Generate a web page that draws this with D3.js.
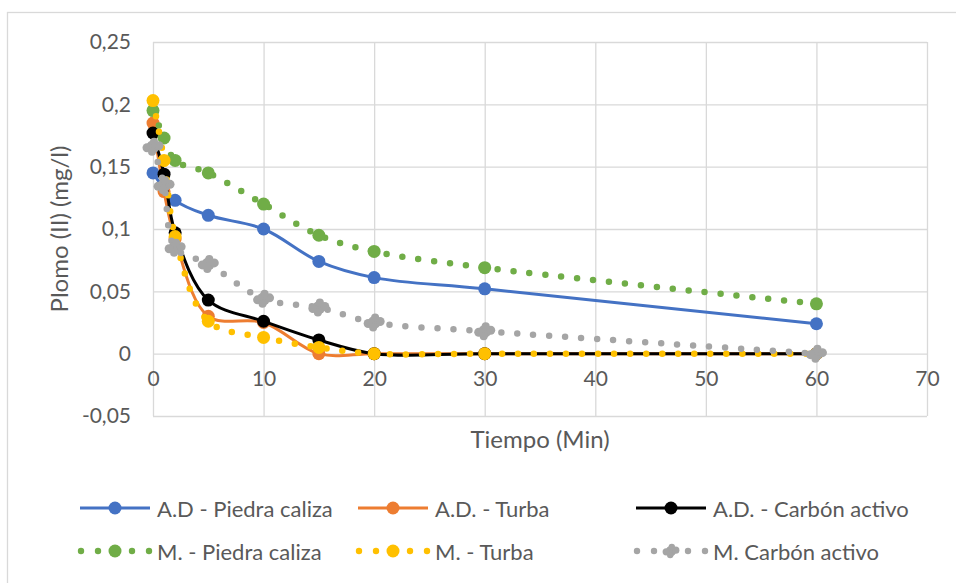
<!DOCTYPE html>
<html>
<head>
<meta charset="utf-8">
<script src="https://cdn.jsdelivr.net/npm/d3@7"></script>
<style>
  body { margin: 0; background: #fff; }
  text { font-family: Lato, "Open Sans", sans-serif; fill: #595959; }
</style>
</head>
<body>
<svg id="chart" width="956" height="583"></svg>
<script>
// Sampling times (min)
const minutesFull = [0, 1, 2, 5, 10, 15, 20, 30, 60];
const minutesAD = [0, 2, 5, 10, 15, 20, 30, 60];

// Lead (II) concentration, mg/l
const adPiedraCaliza = [0.145, 0.123, 0.111, 0.100, 0.074, 0.061, 0.052, 0.024];
const adTurba        = [0.185, 0.130, 0.092, 0.030, 0.025, 0.000, 0.000, 0.000, 0.000];
const adCarbon       = [0.177, 0.144, 0.097, 0.043, 0.026, 0.011, 0.000, 0.000, 0.000];
const mPiedraCaliza  = [0.195, 0.173, 0.155, 0.145, 0.120, 0.095, 0.082, 0.069, 0.040];
const mTurba         = [0.203, 0.155, 0.094, 0.026, 0.013, 0.005, 0.000, 0.000, 0.000];
const mCarbon        = [0.166, 0.135, 0.085, 0.072, 0.044, 0.037, 0.025, 0.018, 0.000];

const seriesNames = ["A.D - Piedra caliza", "A.D. - Turba", "A.D. - Carbón activo",
                     "M. - Piedra caliza", "M. - Turba", "M. Carbón activo"];

// Axis ticks
const xTicks = [0, 10, 20, 30, 40, 50, 60, 70];
const yTicks = [-0.05, 0, 0.05, 0.1, 0.15, 0.2, 0.25];
const yTickLabels = ["-0,05", "0", "0,05", "0,1", "0,15", "0,2", "0,25"];

const xTitle = "Tiempo (Min)";
const yTitle = "Plomo (II) (mg/l)";

const series = [
  { name: seriesNames[0], t: minutesAD,   v: adPiedraCaliza, color: "#4472C4", dotted: false, blob: false },
  { name: seriesNames[1], t: minutesFull, v: adTurba,        color: "#ED7D31", dotted: false, blob: false },
  { name: seriesNames[2], t: minutesFull, v: adCarbon,       color: "#000000", dotted: false, blob: false },
  { name: seriesNames[3], t: minutesFull, v: mPiedraCaliza,  color: "#70AD47", dotted: true,  blob: false },
  { name: seriesNames[4], t: minutesFull, v: mTurba,         color: "#FFC000", dotted: true,  blob: false },
  { name: seriesNames[5], t: minutesFull, v: mCarbon,        color: "#A5A5A5", dotted: true,  blob: true }
];

const svg = d3.select("#chart");

// Chart frame
svg.append("rect")
  .attr("x", 7.5).attr("y", 12.5)
  .attr("width", 1000).attr("height", 1000)
  .attr("fill", "#fff").attr("stroke", "#D9D9D9").attr("stroke-width", 1.3);

const plot = { left: 153, right: 927, top: 42, bottom: 416 };
const x = d3.scaleLinear().domain([0, 70]).range([plot.left, plot.right]);
const y = d3.scaleLinear().domain([-0.05, 0.25]).range([plot.bottom, plot.top]);

// Horizontal gridlines + y tick labels
const yAxis = svg.append("g")
  .attr("transform", `translate(${plot.left},0)`)
  .call(d3.axisLeft(y).tickValues(yTicks)
    .tickFormat((d, i) => yTickLabels[i])
    .tickSize(-(plot.right - plot.left))
    .tickPadding(22));
yAxis.select(".domain").remove();
yAxis.selectAll("line").attr("stroke", "#D9D9D9").attr("stroke-width", 1.3);
yAxis.selectAll("text").attr("font-size", 21).style("font-family", "Lato, sans-serif").attr("fill", "#595959");

// Vertical gridlines
const xGrid = svg.append("g")
  .attr("transform", `translate(0,${plot.bottom})`)
  .call(d3.axisBottom(x).tickValues(xTicks).tickFormat("")
    .tickSize(-(plot.bottom - plot.top)));
xGrid.select(".domain").remove();
xGrid.selectAll("line").attr("stroke", "#D9D9D9").attr("stroke-width", 1.3);

// x tick labels hang below the zero line
const xAxis = svg.append("g")
  .attr("transform", `translate(0,${y(0)})`)
  .call(d3.axisBottom(x).tickValues(xTicks).tickFormat(d => String(d))
    .tickSize(0).tickPadding(17));
xAxis.select(".domain").remove();
xAxis.selectAll("text").attr("font-size", 21).style("font-family", "Lato, sans-serif").attr("fill", "#595959");

// Axis titles
svg.append("text")
  .attr("x", 540).attr("y", 438)
  .attr("text-anchor", "middle").attr("dominant-baseline", "central")
  .attr("font-size", 24)
  .text(xTitle);

svg.append("text")
  .attr("transform", "translate(58,229) rotate(-90)")
  .attr("text-anchor", "middle").attr("dominant-baseline", "central")
  .attr("font-size", 24)
  .text(yTitle);

const line = d3.line()
  .x(d => x(d[0])).y(d => y(d[1]))
  .curve(d3.curveCatmullRom.alpha(0.5));

// Irregular cluster marker used by the grey series
const blobParts = [[0, 0, 6.5], [-6, 1, 4.5], [6, -1, 4.5], [1, -5, 4], [-1, 5, 4]];
function drawMarker(g, cx, cy, s, scale) {
  if (s.blob) {
    blobParts.forEach(([dx, dy, r]) => {
      g.append("circle").attr("cx", cx + dx * scale).attr("cy", cy + dy * scale)
        .attr("r", r * scale).attr("fill", s.color);
    });
  } else {
    g.append("circle").attr("cx", cx).attr("cy", cy)
      .attr("r", 6.5 * scale).attr("fill", s.color);
  }
}

const marks = svg.append("g");
series.forEach(s => {
  const pts = s.t.map((t, i) => [t, s.v[i]]);
  const g = marks.append("g");
  const path = g.append("path")
    .attr("d", line(pts))
    .attr("fill", "none")
    .attr("stroke", s.color);
  if (s.dotted) {
    path.attr("stroke-width", 6.5).attr("stroke-linecap", "round").attr("stroke-dasharray", "0 16");
  } else {
    path.attr("stroke-width", 3).attr("stroke-linejoin", "round");
  }
  pts.forEach(p => drawMarker(g, x(p[0]), y(p[1]), s, 1));
});

// Legend
const legendCols = [80, 358, 636];
const legendRows = [508, 551];
const legend = svg.append("g");
series.forEach((s, i) => {
  const lx = legendCols[i % 3];
  const ly = legendRows[Math.floor(i / 3)];
  const g = legend.append("g");
  if (s.dotted) {
    [1, 18, 52, 69].forEach(dx => {
      g.append("circle").attr("cx", lx + dx).attr("cy", ly).attr("r", 3.2).attr("fill", s.color);
    });
  } else {
    g.append("line").attr("x1", lx).attr("x2", lx + 70)
      .attr("y1", ly).attr("y2", ly)
      .attr("stroke", s.color).attr("stroke-width", 3);
  }
  drawMarker(g, lx + 35, ly, s, s.blob ? 0.8 : 1);
  g.append("text")
    .attr("x", lx + 77).attr("y", ly)
    .attr("dominant-baseline", "central")
    .attr("font-size", 22)
    .text(s.name);
});
</script>
</body>
</html>
